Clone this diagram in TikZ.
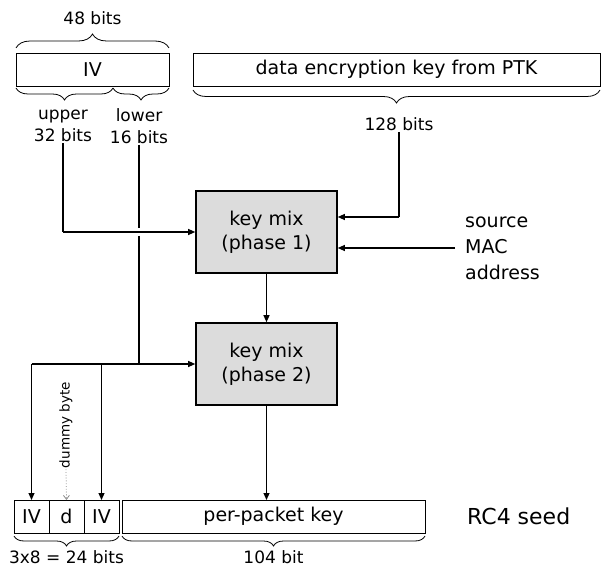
\documentclass[tikz,border=0pt]{standalone}
\usepackage{fontspec}
\setmainfont{DejaVu Sans}
\usepackage{xcolor}
\definecolor{MIXgray}{HTML}{DCDCDC}
\definecolor{DUMgray}{HTML}{8A8A8A}
\usetikzlibrary{arrows.meta, decorations.pathreplacing, positioning, calc}

\begin{document}
\begin{tikzpicture}[
  x=1pt, y=-1pt,
  field/.style={
    draw, line width=0.9pt, outer sep=0pt, inner sep=0pt,
    minimum height=33pt, font=\fontsize{19}{22}\selectfont
  },
  mix/.style={
    draw, line width=1.6pt, fill=MIXgray, align=center,
    minimum width=141pt, minimum height=82pt,
    font=\fontsize{19}{24}\selectfont
  },
  lbl/.style={inner sep=1pt, align=center, font=\fontsize{17}{22}\selectfont},
  brace/.style={decorate, decoration={brace, amplitude=#1}, line width=0.8pt},
  wire/.style={line width=1.8pt},
  arr/.style={-{Triangle[length=7pt, width=6pt]}, line width=1.1pt},
]
\useasboundingbox (0,0) rectangle (602,577);

% Top row — IV and temporal key
\node[field, minimum width=153pt] (iv) at (92.5,69.5) {IV};
\node[field, minimum width=407pt, right=24pt of iv] (dek) {data encryption key from PTK};
\coordinate (ivsplit) at (113,86);

\draw[brace=14pt] ([yshift=5pt]iv.north west) -- ([yshift=5pt]iv.north east)
  node[lbl, midway, above=22pt] (b48) {48 bits};
\draw[brace=12pt] ([yshift=-2pt]ivsplit) -- ([yshift=-2pt]iv.south west |- ivsplit);
\draw[brace=12pt] ([yshift=-2pt]iv.south east) -- ([yshift=-2pt]ivsplit);
\draw[brace=13pt] ([yshift=-4pt]dek.south east) -- ([yshift=-4pt]dek.south west);

\node[lbl] (up) at (63,126) {upper\\32 bits};
\node[lbl] (lo) at (139,126) {lower\\16 bits};
\node[lbl] (b128) at (399,124) {128 bits};

% Key mixing
\node[mix] (km1) at (266.5,232) {key mix\\(phase 1)};
\node[mix] (km2) at (266.5,364) {key mix\\(phase 2)};
\node[lbl, align=left, anchor=west, font=\fontsize{19}{26}\selectfont]
  (mac) at (464,248) {source\\MAC\\address};

% Bottom row — RC4 seed
\node[field, minimum width=35pt] (iv1) at (31.5,516.5) {IV};
\node[field, minimum width=35pt, right=0pt of iv1] (dd) {d};
\node[field, minimum width=35pt, right=0pt of dd] (iv2) {IV};
\node[field, minimum width=303pt, right=3pt of iv2] (ppk) {per-packet key};
\node[lbl, font=\fontsize{22}{26}\selectfont, right=41pt of ppk] (seed) {RC4 seed};

\draw[brace=10pt] ([yshift=-3pt]iv2.south east) -- ([yshift=-3pt]iv1.south west)
  node[lbl, midway, below=13pt] (b24) {3x8 = 24 bits};
\draw[brace=10pt] ([yshift=-3pt]ppk.south east) -- ([yshift=-3pt]ppk.south west)
  node[lbl, midway, below=13pt] (b104) {104 bit};

% Dummy byte
\node[lbl, rotate=90, anchor=east, font=\fontsize{13.5}{15}\selectfont]
  (dum) at (66,381) {dummy byte};
\draw[-{Straight Barb[length=4pt, width=6pt]}, dotted, draw=DUMgray, line width=0.8pt]
  (dum.west) -- (dd.north);

% Arrows
\coordinate (k1a) at ($(km1.east)+(0,-15)$);
\draw[wire] (b128.south) -- (b128.south |- k1a);
\draw[arr] (b128.south |- k1a) -- (k1a);
\draw[arr] ([xshift=-9pt]mac.west) -- (mac.west -| km1.east);

\draw[wire] (up.south) -- (up.south |- km1.west);
\draw[arr] (up.south |- km1.west) -- (km1.west);

\draw[wire] (lo.south) -- ($(lo.south |- km1.west)+(0,-4)$);
\draw[wire] ($(lo.south |- km1.west)+(0,4)$) -- (lo.south |- km2.west);
\draw[line width=1.1pt] (iv1.north |- km2.west) -- (lo.south |- km2.west);
\draw[arr] (lo.south |- km2.west) -- (km2.west);
\draw[arr] (iv1.north |- km2.west) -- (iv1.north);
\draw[arr] (iv2.north |- km2.west) -- (iv2.north);

\draw[arr] (km1) -- (km2);
\draw[arr] (km2.south) -- (km2.south |- ppk.north);

\end{tikzpicture}
\end{document}
